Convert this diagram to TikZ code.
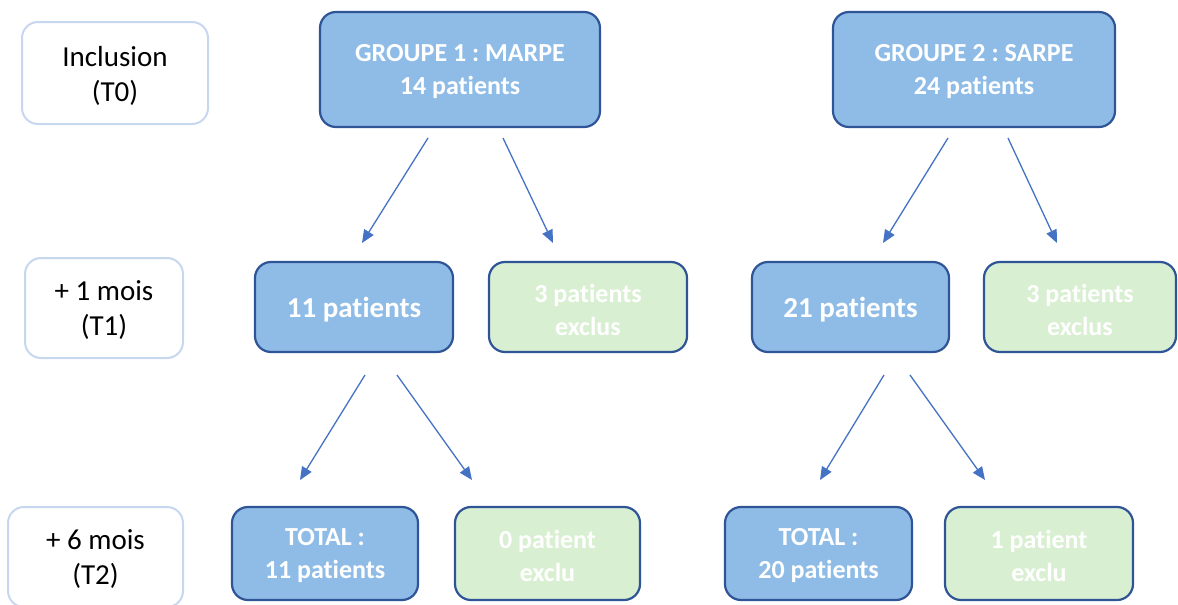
\documentclass[tikz,border=0pt]{standalone}
\usepackage{fontspec}
\setmainfont[Ligatures={NoCommon}]{Carlito}
\frenchspacing
\usetikzlibrary{arrows.meta}
\definecolor{bfill}{HTML}{8FBCE6}
\definecolor{bdraw}{HTML}{2F5597}
\definecolor{gfill}{HTML}{D9EFD2}
\definecolor{ldraw}{HTML}{C8D7F0}
\definecolor{arr}{HTML}{4472C4}
\tikzset{
  bluebox/.style={draw=bdraw, line width=2.2pt, fill=bfill, rounded corners=16pt},
  greenbox/.style={draw=bdraw, line width=2.2pt, fill=gfill, rounded corners=16pt},
  labelbox/.style={draw=ldraw, line width=2pt, fill=white, rounded corners=16pt},
  boxtext/.style={text=white, font=\fontsize{26}{33}\selectfont\bfseries, align=center, inner sep=0pt},
  bigtext/.style={text=white, font=\fontsize{29}{35}\selectfont\bfseries, align=center, inner sep=0pt},
  labeltext/.style={text=black, font=\fontsize{29}{35}\selectfont, align=center, inner sep=0pt},
  flow/.style={draw=arr, line width=1.3pt, -{Triangle[length=13pt,width=11pt]}}
}
% #1 box style, #2 text style, #3 name, #4-#7 corners, #8 text
\newcommand{\flowbox}[8]{%
  \path[#1] (#4,#5) rectangle (#6,#7);
  \node[#2] (#3) at ({(#4+#6)/2},{(#5+#7)/2+2.5}) {#8};
}
\begin{document}
\begin{tikzpicture}[x=1pt,y=-1pt]
\useasboundingbox (0,0) rectangle (1178,605);
% label boxes
\flowbox{labelbox}{labeltext}{t0}{22}{22}{208}{124}{Inclusion\\(T0)}
\flowbox{labelbox}{labeltext}{t1}{25}{258}{183}{358}{+ 1 mois\\(T1)}
\flowbox{labelbox}{labeltext}{t2}{8}{507}{183}{607}{+ 6 mois\\(T2)}
% group 1
\flowbox{bluebox}{boxtext}{g1}{320}{12}{600}{127}{GROUPE 1 : MARPE\\14 patients}
\flowbox{bluebox}{bigtext}{g1a}{255}{262}{453}{352}{11 patients}
\flowbox{greenbox}{boxtext}{g1b}{489}{262}{687}{352}{3 patients\\exclus}
\flowbox{bluebox}{boxtext}{g1c}{232}{507}{418}{600}{TOTAL :\\11 patients}
\flowbox{greenbox}{boxtext}{g1d}{455}{507}{640}{600}{0 patient\\exclu}
% group 2
\flowbox{bluebox}{boxtext}{g2}{833}{12}{1115}{127}{GROUPE 2 : SARPE\\24 patients}
\flowbox{bluebox}{bigtext}{g2a}{752}{262}{949}{352}{21 patients}
\flowbox{greenbox}{boxtext}{g2b}{984}{262}{1176}{352}{3 patients\\exclus}
\flowbox{bluebox}{boxtext}{g2c}{725}{507}{912}{600}{TOTAL :\\20 patients}
\flowbox{greenbox}{boxtext}{g2d}{945}{507}{1133}{600}{1 patient\\exclu}
% arrow end points
\coordinate (a1s) at (428,138); \coordinate (a1e) at (362,243);
\coordinate (a2s) at (503,138); \coordinate (a2e) at (553,243);
\coordinate (a3s) at (948,138); \coordinate (a3e) at (883,243);
\coordinate (a4s) at (1008,138); \coordinate (a4e) at (1057,243);
\coordinate (b1s) at (365,375); \coordinate (b1e) at (300,480);
\coordinate (b2s) at (397,375); \coordinate (b2e) at (472,480);
\coordinate (b3s) at (884,375); \coordinate (b3e) at (820,480);
\coordinate (b4s) at (910,375); \coordinate (b4e) at (985,480);
\draw[flow] (a1s) -- (a1e);
\draw[flow] (a2s) -- (a2e);
\draw[flow] (a3s) -- (a3e);
\draw[flow] (a4s) -- (a4e);
\draw[flow] (b1s) -- (b1e);
\draw[flow] (b2s) -- (b2e);
\draw[flow] (b3s) -- (b3e);
\draw[flow] (b4s) -- (b4e);
\end{tikzpicture}
\end{document}
